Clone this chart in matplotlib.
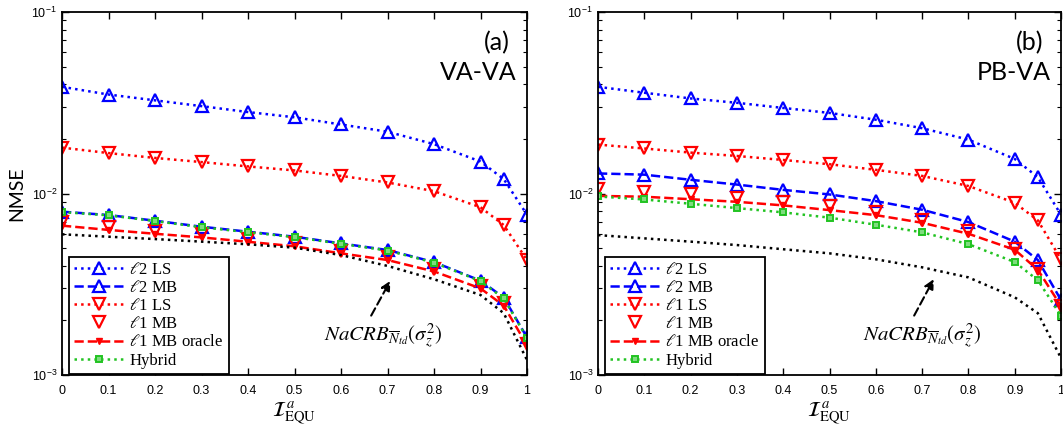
import numpy as np
import matplotlib
matplotlib.use('Agg')
import matplotlib.pyplot as plt

plt.rcParams['mathtext.fontset'] = 'stix'
plt.rcParams['font.family'] = ['Liberation Sans', 'DejaVu Sans']

# --- data ---
x_vals = [0, 0.1, 0.2, 0.3, 0.4, 0.5, 0.6, 0.7, 0.8, 0.9, 0.95, 1.0]
x_ticks = [0, 0.1, 0.2, 0.3, 0.4, 0.5, 0.6, 0.7, 0.8, 0.9, 1]
x_tick_labels = ['0', '0.1', '0.2', '0.3', '0.4', '0.5', '0.6', '0.7', '0.8', '0.9', '1']

# (a) VA-VA
a_l2_ls = [0.0387, 0.0351, 0.0326, 0.0303, 0.0281, 0.0263, 0.0240, 0.0219, 0.0187, 0.0150, 0.0120, 0.00764]
a_l2_mb = [0.00794, 0.00761, 0.00708, 0.00656, 0.00616, 0.00578, 0.00531, 0.00488, 0.00419, 0.00331, 0.00267, 0.00161]
a_l1_ls = [0.0179, 0.0167, 0.0157, 0.0149, 0.0141, 0.0134, 0.0125, 0.0115, 0.0103, 0.0084, 0.0067, 0.0043]
a_l1_mb = [0.00699, 0.00656, 0.00624, 0.00596, 0.00562, 0.00531, 0.00484, 0.00445, 0.00384, 0.00309, 0.00248, 0.00148]
a_oracle = [0.00665, 0.00630, 0.00600, 0.00573, 0.00542, 0.00512, 0.00468, 0.00430, 0.00372, 0.00300, 0.00241, 0.00146]
a_hybrid = [0.00790, 0.00758, 0.00705, 0.00652, 0.00612, 0.00575, 0.00528, 0.00485, 0.00416, 0.00329, 0.00264, 0.00160]
a_bound = [0.00596, 0.00578, 0.00561, 0.00543, 0.00525, 0.00503, 0.00458, 0.00399, 0.00337, 0.00276, 0.00219, 0.00121]

# (b) PB-VA
b_l2_ls = [0.0387, 0.0359, 0.0334, 0.0316, 0.0296, 0.0278, 0.0255, 0.0229, 0.0198, 0.0155, 0.0123, 0.00764]
b_l2_mb = [0.0129, 0.0127, 0.0119, 0.0112, 0.01047, 0.00988, 0.00908, 0.00814, 0.00696, 0.00543, 0.00430, 0.00259]
b_l1_ls = [0.0186, 0.0177, 0.0168, 0.0161, 0.0153, 0.0145, 0.0135, 0.0125, 0.0110, 0.00889, 0.00711, 0.00434]
b_l1_mb = [0.0106, 0.01025, 0.00988, 0.00947, 0.00897, 0.00852, 0.00790, 0.00713, 0.00621, 0.00497, 0.00382, 0.00240]
b_oracle = [0.0097, 0.0096, 0.0093, 0.0090, 0.0086, 0.0081, 0.0076, 0.0069, 0.0060, 0.0049, 0.0038, 0.0024]
b_hybrid = [0.00963, 0.00927, 0.00878, 0.00831, 0.00787, 0.00736, 0.00673, 0.00611, 0.00526, 0.00419, 0.00333, 0.00212]
b_bound = [0.00590, 0.00566, 0.00543, 0.00520, 0.00493, 0.00468, 0.00434, 0.00392, 0.00345, 0.00268, 0.00219, 0.00124]

labels = [r'$\ell$2 LS', r'$\ell$2 MB', r'$\ell$1 LS', r'$\ell$1 MB', r'$\ell$1 MB oracle', 'Hybrid']
bound_label = r'$NaCRB_{\overline{N}_{td}}(\sigma_z^2)$'

GREEN = '#22c322'


def draw_panel(ax, l2ls, l2mb, l1ls, l1mb, oracle, hybrid, bound, tag, name,
               arrow_tip, arrow_tail, text_xy):
    h1, = ax.plot(x_vals, l2ls, ':', color='blue', lw=1.8, marker='^', ms=9,
                  mfc='none', mec='blue', mew=1.6)
    h2, = ax.plot(x_vals, l2mb, '--', color='blue', lw=1.8, marker='^', ms=9,
                  mfc='none', mec='blue', mew=1.6)
    h3, = ax.plot(x_vals, l1ls, ':', color='red', lw=1.8, marker='v', ms=9,
                  mfc='none', mec='red', mew=1.6)
    h5, = ax.plot(x_vals, oracle, '--', color='red', lw=1.8, marker='v', ms=5,
                  mfc='red', mec='red')
    h4, = ax.plot(x_vals, l1mb, linestyle='none', color='red', marker='v', ms=9,
                  mfc='none', mec='red', mew=1.6)
    h6, = ax.plot(x_vals, hybrid, ':', color=GREEN, lw=1.8, marker='s', ms=4.5,
                  mfc='#7fdc7f', mec=GREEN, mew=1.4)
    ax.plot(x_vals, bound, ':', color='black', lw=1.8)

    ax.set_yscale('log')
    ax.set_xlim(0, 1)
    ax.set_ylim(1e-3, 1e-1)
    ax.set_xticks(x_ticks)
    ax.set_xticklabels(x_tick_labels)
    ax.tick_params(which='both', direction='in', top=True, right=True, labelsize=9)
    ax.tick_params(which='major', length=5, width=1)
    ax.tick_params(which='minor', length=3, width=0.8)
    ax.tick_params(axis='x', pad=7)
    for sp in ax.spines.values():
        sp.set_linewidth(1.3)

    ax.text(0.5, -0.105, r'$\mathcal{I}^{\,a}_{\mathrm{EQU}}$', transform=ax.transAxes,
            ha='center', va='center', fontsize=15)

    ax.text(0.962, 0.915, tag, transform=ax.transAxes, ha='right', va='center',
            fontsize=18, family=['Lato', 'DejaVu Sans'])
    ax.text(0.978, 0.832, name, transform=ax.transAxes, ha='right', va='center',
            fontsize=18, family=['Lato', 'DejaVu Sans'])

    ax.annotate('', xy=arrow_tip, xytext=arrow_tail,
                arrowprops=dict(arrowstyle='-|>', color='black', lw=1.5,
                                linestyle=(0, (4, 2)), mutation_scale=14))
    ax.text(text_xy[0], text_xy[1], bound_label, ha='center', va='center', fontsize=15)

    leg = ax.legend([h1, h2, h3, h4, h5, h6], labels, loc='lower left',
                    bbox_to_anchor=(0.016, 0.004), borderaxespad=0,
                    fancybox=False, framealpha=1, edgecolor='black',
                    handlelength=3.0, handletextpad=0.3, labelspacing=0.13,
                    borderpad=0.3, numpoints=1,
                    prop={'family': ['Liberation Serif'], 'size': 12})
    leg.get_frame().set_linewidth(1.3)


fig = plt.figure(figsize=(10.63, 4.28), dpi=100)
ax_a = fig.add_axes([62 / 1063, 53 / 428, 465 / 1063, 363 / 428])
ax_b = fig.add_axes([598 / 1063, 53 / 428, 463 / 1063, 363 / 428])

draw_panel(ax_a, a_l2_ls, a_l2_mb, a_l1_ls, a_l1_mb, a_oracle, a_hybrid, a_bound,
           '(a)', 'VA-VA', (0.709, 0.00341), (0.662, 0.00206), (0.69, 0.00165))
draw_panel(ax_b, b_l2_ls, b_l2_mb, b_l1_ls, b_l1_mb, b_oracle, b_hybrid, b_bound,
           '(b)', 'PB-VA', (0.728, 0.00348), (0.680, 0.00206), (0.70, 0.00165))

fig.text(17 / 1063, 1 - 194 / 428, 'NMSE', rotation=90, ha='center', va='center',
         fontsize=14, family=['Lato', 'DejaVu Sans'])

plt.savefig('out.png', dpi=100)
